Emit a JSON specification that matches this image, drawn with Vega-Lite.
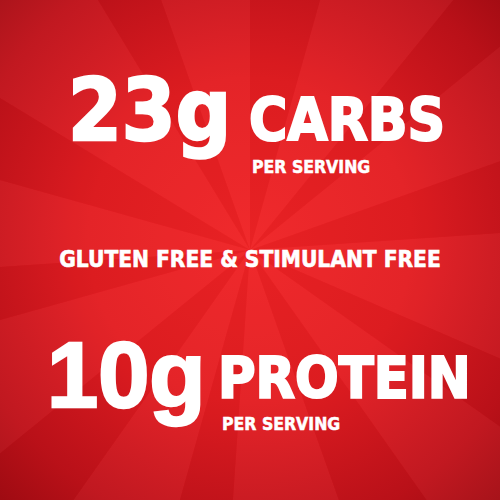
{
  "$schema": "https://vega.github.io/schema/vega-lite/v6.json",
  "width": 500,
  "height": 500,
  "autosize": {"type": "fit", "contains": "padding"},
  "padding": 0,
  "background": "#b40d14",
  "view": {
    "stroke": null,
    "fill": {
      "gradient": "radial",
      "x1": 0.5, "y1": 0.48, "r1": 0,
      "x2": 0.5, "y2": 0.48, "r2": 0.72,
      "stops": [
        {"offset": 0, "color": "#f02426"},
        {"offset": 0.45, "color": "#e41d22"},
        {"offset": 0.8, "color": "#c2121a"},
        {"offset": 1, "color": "#a50c13"}
      ]
    }
  },
  "datasets": {
    "rays": [
      {"ray": 1, "share": 4, "shade": "dark"},
      {"ray": 2, "share": 6, "shade": "light"},
      {"ray": 3, "share": 3, "shade": "dark"},
      {"ray": 4, "share": 5, "shade": "light"},
      {"ray": 5, "share": 4, "shade": "dark"},
      {"ray": 6, "share": 7, "shade": "light"},
      {"ray": 7, "share": 3, "shade": "dark"},
      {"ray": 8, "share": 5, "shade": "light"},
      {"ray": 9, "share": 4, "shade": "dark"},
      {"ray": 10, "share": 6, "shade": "light"},
      {"ray": 11, "share": 3, "shade": "dark"},
      {"ray": 12, "share": 5, "shade": "light"},
      {"ray": 13, "share": 4, "shade": "dark"},
      {"ray": 14, "share": 6, "shade": "light"},
      {"ray": 15, "share": 3, "shade": "dark"},
      {"ray": 16, "share": 5, "shade": "light"},
      {"ray": 17, "share": 4, "shade": "dark"},
      {"ray": 18, "share": 7, "shade": "light"},
      {"ray": 19, "share": 3, "shade": "dark"},
      {"ray": 20, "share": 5, "shade": "light"}
    ],
    "texts": [
      {"part": "num1", "label": "23g", "x": 68, "y": 140},
      {"part": "word1", "label": "CARBS", "x": 249, "y": 140},
      {"part": "per1", "label": "PER SERVING", "x": 252, "y": 173},
      {"part": "tag", "label": "GLUTEN FREE & STIMULANT FREE", "x": 250, "y": 267},
      {"part": "num2", "label": "10g", "x": 47, "y": 407},
      {"part": "word2", "label": "PROTEIN", "x": 218, "y": 398},
      {"part": "per2", "label": "PER SERVING", "x": 222, "y": 430}
    ]
  },
  "layer": [
    {
      "data": {"name": "rays"},
      "mark": {"type": "arc", "outerRadius": 420, "opacity": 0.03, "clip": true},
      "encoding": {
        "theta": {"field": "share", "type": "quantitative", "stack": true},
        "order": {"field": "ray", "type": "quantitative"},
        "color": {
          "field": "shade", "type": "nominal", "legend": null,
          "scale": {"domain": ["dark", "light"], "range": ["#000000", "#ffffff"]}
        }
      }
    },
    {
      "data": {"name": "texts"},
      "transform": [{"filter": "datum.part == 'num1'"}],
      "mark": {"type": "text", "align": "left", "baseline": "alphabetic", "font": "DejaVu Sans Condensed", "fontWeight": "bold", "fontSize": 86, "color": "#ffffff", "stroke": "#ffffff", "strokeWidth": 2.5},
      "encoding": {
        "x": {"field": "x", "type": "quantitative", "scale": {"domain": [0, 500]}, "axis": null},
        "y": {"field": "y", "type": "quantitative", "scale": {"domain": [0, 500], "reverse": true}, "axis": null},
        "text": {"field": "label"}
      }
    },
    {
      "data": {"name": "texts"},
      "transform": [{"filter": "datum.part == 'num2'"}],
      "mark": {"type": "text", "align": "left", "baseline": "alphabetic", "font": "Liberation Sans", "fontWeight": "bold", "fontSize": 92, "color": "#ffffff", "stroke": "#ffffff", "strokeWidth": 2.5},
      "encoding": {
        "x": {"field": "x", "type": "quantitative", "scale": {"domain": [0, 500]}, "axis": null},
        "y": {"field": "y", "type": "quantitative", "scale": {"domain": [0, 500], "reverse": true}, "axis": null},
        "text": {"field": "label"}
      }
    },
    {
      "data": {"name": "texts"},
      "transform": [{"filter": "datum.part == 'word1'"}],
      "mark": {"type": "text", "align": "left", "baseline": "alphabetic", "font": "DejaVu Sans Condensed", "fontWeight": "bold", "fontSize": 58, "color": "#ffffff", "stroke": "#ffffff", "strokeWidth": 2},
      "encoding": {
        "x": {"field": "x", "type": "quantitative", "scale": {"domain": [0, 500]}, "axis": null},
        "y": {"field": "y", "type": "quantitative", "scale": {"domain": [0, 500], "reverse": true}, "axis": null},
        "text": {"field": "label"}
      }
    },
    {
      "data": {"name": "texts"},
      "transform": [{"filter": "datum.part == 'word2'"}],
      "mark": {"type": "text", "align": "left", "baseline": "alphabetic", "font": "DejaVu Sans Condensed", "fontWeight": "bold", "fontSize": 57, "color": "#ffffff", "stroke": "#ffffff", "strokeWidth": 2},
      "encoding": {
        "x": {"field": "x", "type": "quantitative", "scale": {"domain": [0, 500]}, "axis": null},
        "y": {"field": "y", "type": "quantitative", "scale": {"domain": [0, 500], "reverse": true}, "axis": null},
        "text": {"field": "label"}
      }
    },
    {
      "data": {"name": "texts"},
      "transform": [{"filter": "datum.part == 'per1' || datum.part == 'per2'"}],
      "mark": {"type": "text", "align": "left", "baseline": "alphabetic", "font": "DejaVu Sans Condensed", "fontWeight": "bold", "fontSize": 17.5, "color": "#ffffff", "stroke": "#ffffff", "strokeWidth": 0.5},
      "encoding": {
        "x": {"field": "x", "type": "quantitative", "scale": {"domain": [0, 500]}, "axis": null},
        "y": {"field": "y", "type": "quantitative", "scale": {"domain": [0, 500], "reverse": true}, "axis": null},
        "text": {"field": "label"}
      }
    },
    {
      "data": {"name": "texts"},
      "transform": [{"filter": "datum.part == 'tag'"}],
      "mark": {"type": "text", "align": "center", "baseline": "alphabetic", "font": "DejaVu Sans Condensed", "fontWeight": "bold", "fontSize": 22.5, "color": "#ffffff", "stroke": "#ffffff", "strokeWidth": 0.6},
      "encoding": {
        "x": {"field": "x", "type": "quantitative", "scale": {"domain": [0, 500]}, "axis": null},
        "y": {"field": "y", "type": "quantitative", "scale": {"domain": [0, 500], "reverse": true}, "axis": null},
        "text": {"field": "label"}
      }
    }
  ]
}
